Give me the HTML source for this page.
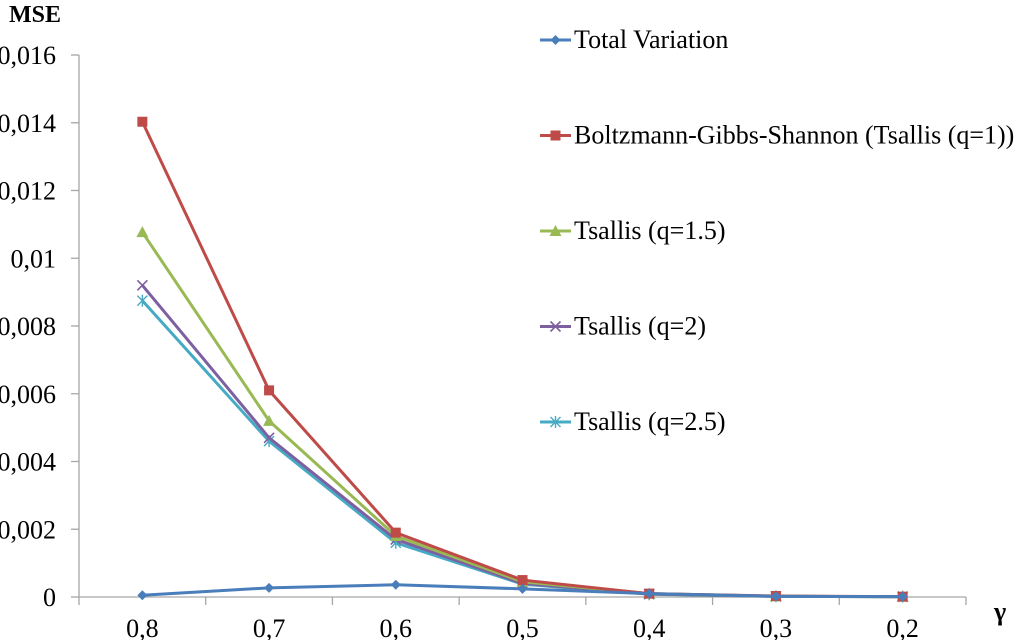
<!DOCTYPE html>
<html><head><meta charset="utf-8"><style>
html,body{margin:0;padding:0;background:#fff;}
svg{display:block;font-family:"Liberation Serif",serif;}
</style></head><body>
<svg id="chart" width="1024" height="640" viewBox="0 0 1024 640">
<text x="9" y="22" font-size="24" font-weight="bold">MSE</text>
<text x="994" y="620" font-size="26" font-weight="bold">γ</text>
<g id="axes"></g><g id="series"></g><g id="legend"></g>
</svg>
<script>
const categories=["0,8","0,7","0,6","0,5","0,4","0,3","0,2"];
const yTicks=[0,0.002,0.004,0.006,0.008,0.01,0.012,0.014,0.016];
const yTickLabels=["0","0,002","0,004","0,006","0,008","0,01","0,012","0,014","0,016"];
const seriesNames=["Total Variation","Boltzmann-Gibbs-Shannon (Tsallis (q=1))","Tsallis (q=1.5)","Tsallis (q=2)","Tsallis (q=2.5)"];
const tvValues=[0.00005,0.00027,0.00036,0.00024,0.0001,0.00002,0.00001];
const bgsValues=[0.01403,0.0061,0.0019,0.0005,0.0001,0.00003,0.00001];
const q15Values=[0.01077,0.0052,0.0018,0.00045,0.0001,0.00002,0.00001];
const q2Values=[0.0092,0.0047,0.0017,0.0004,0.00009,0.00002,0.00001];
const q25Values=[0.00875,0.0046,0.0016,0.00038,0.00008,0.00002,0.00001];
const colors=["#4a7ebb","#be4b48","#98b954","#7d60a0","#46aac5"];
const markers=["diamond","square","triangle","x","star"];
const NS="http://www.w3.org/2000/svg";
const X0=79,X1=966,Y0=597,Y1=55,YMAX=0.016;
const bw=(X1-X0)/categories.length;
const xs=i=>X0+bw*(i+0.5);
const ys=v=>Y0-(v/YMAX)*(Y0-Y1);
function mk(tag,attrs,parent){const e=document.createElementNS(NS,tag);for(const k in attrs)e.setAttribute(k,attrs[k]);parent.appendChild(e);return e;}
const axes=document.getElementById('axes');
let l=mk('line',{x1:X0,y1:Y1,x2:X0,y2:Y0,stroke:'#a6a6a6','stroke-width':1.3},axes);


yTicks.forEach((v,i)=>{
 const t=mk('line',{x1:X0-8,y1:ys(v),x2:X0,y2:ys(v),stroke:'#a6a6a6','stroke-width':1.3},axes);
 
 
 const tx=mk('text',{x:56,y:ys(v)+9,'font-size':26,'text-anchor':'end'},axes);
 tx.textContent=yTickLabels[i];
 
 
});
l=mk('line',{x1:X0,y1:Y0,x2:X1,y2:Y0,stroke:'#a6a6a6','stroke-width':1.3},axes);


for(let i=0;i<=categories.length;i++){
 const t=mk('line',{x1:X0+bw*i,y1:Y0,x2:X0+bw*i,y2:Y0+8,stroke:'#a6a6a6','stroke-width':1.3},axes);
 
 
}
categories.forEach((c,i)=>{
 const tx=mk('text',{x:xs(i),y:637,'font-size':26,'text-anchor':'middle'},axes);
 tx.textContent=c;
 
 
});
function marker(type,x,y,c,parent){
 let e;
 if(type==='diamond')e=mk('path',{d:`M${x} ${y-5}L${x+5} ${y}L${x} ${y+5}L${x-5} ${y}Z`,fill:c},parent);
 else if(type==='square')e=mk('rect',{x:x-5,y:y-5,width:10,height:10,fill:c},parent);
 else if(type==='triangle')e=mk('path',{d:`M${x} ${y-6}L${x+6} ${y+5}L${x-6} ${y+5}Z`,fill:c},parent);
 else if(type==='x')e=mk('path',{d:`M${x-5} ${y-5}L${x+5} ${y+5}M${x+5} ${y-5}L${x-5} ${y+5}`,stroke:c,'stroke-width':1.6,fill:'none'},parent);
 else e=mk('path',{d:`M${x-5} ${y-5}L${x+5} ${y+5}M${x+5} ${y-5}L${x-5} ${y+5}M${x} ${y-6}L${x} ${y+6}`,stroke:c,'stroke-width':1.4,fill:'none'},parent);
 return e;
}
const all=[tvValues,bgsValues,q15Values,q2Values,q25Values];
const sg=document.getElementById('series');
for(let s=all.length-1;s>=0;s--){
 const vals=all[s];
 const g=mk('g',{},sg);
 
 
 const p=mk('polyline',{points:vals.map((v,i)=>xs(i)+','+ys(v)).join(' '),fill:'none',stroke:colors[s],'stroke-width':3},g);
 
 
 vals.forEach((v,i)=>{
  const m=marker(markers[s],xs(i),ys(v),colors[s],g);
  
  
 });
}
const lg=document.getElementById('legend');
seriesNames.forEach((n,s)=>{
 const y=40+s*95.5;
 const g=mk('g',{},lg);
 
 
 mk('line',{x1:540,y1:y,x2:571,y2:y,stroke:colors[s],'stroke-width':3},g);
 marker(markers[s],555.5,y,colors[s],g);
 const t=mk('text',{x:574,y:y+8,'font-size':26},g);
 t.textContent=n;
});
</script>
</body></html>
